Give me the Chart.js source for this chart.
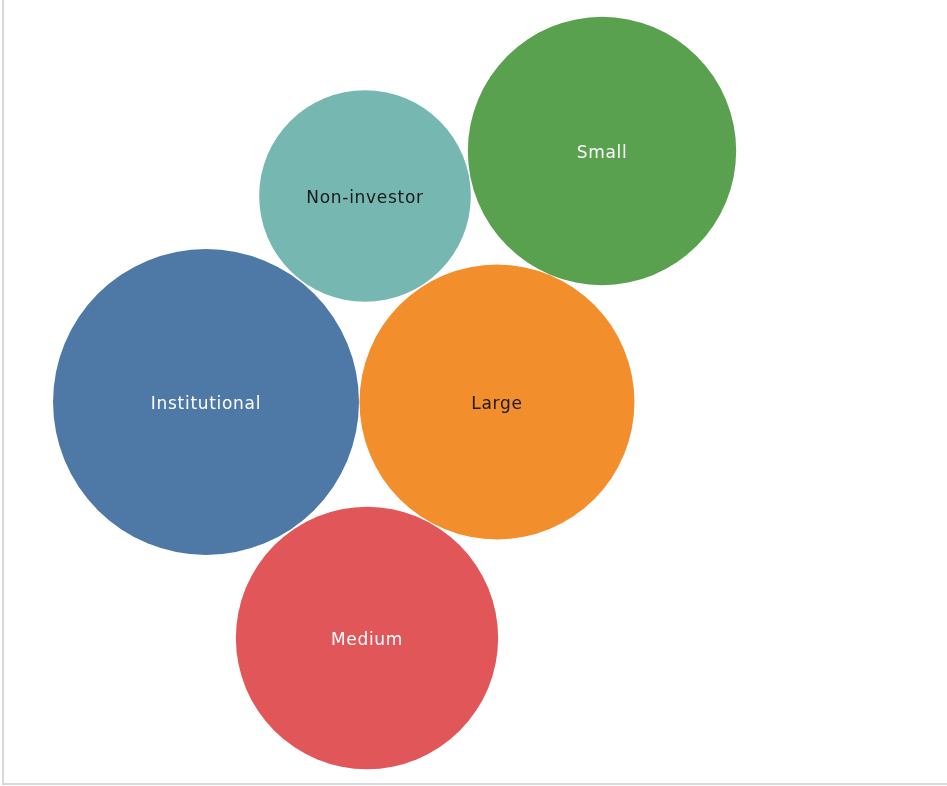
<!DOCTYPE html>
<html>
<head>
<meta charset="utf-8">
<script src="https://cdn.jsdelivr.net/npm/chart.js@4"></script>
<style>
  html, body { margin: 0; padding: 0; background: #fff; }
  #wrap { position: relative; width: 947px; height: 786px; }
</style>
</head>
<body>
<div id="wrap"><canvas id="myChart" width="947" height="786"></canvas></div>
<script>
// Packed bubble data
const categories = ["Institutional", "Large", "Small", "Medium", "Non-investor"];
const values = [234, 189, 180, 172, 112];
// layout positions of the packed bubbles (layout units)
const posX = [206, 497, 602, 367, 365];
const posY = [402, 402, 151, 638, 196];
const colors = ["#4e79a7", "#f28e2b", "#59a14f", "#e15759", "#76b7b2"];
const labelColors = ["#ffffff", "#1a1a1a", "#ffffff", "#ffffff", "#1a1a1a"];

function sizeToRadius(v) {
  return Math.sqrt(v) * 10;
}

const framePlugin = {
  id: "frame",
  beforeDraw(chart) {
    const ctx = chart.ctx;
    ctx.save();
    ctx.strokeStyle = "#d9d9d9";
    ctx.lineWidth = 2;
    ctx.beginPath();
    ctx.moveTo(3, 0);
    ctx.lineTo(3, 784);
    ctx.lineTo(947, 784);
    ctx.stroke();
    ctx.restore();
  },
};

const labelPlugin = {
  id: "bubbleLabels",
  afterDatasetsDraw(chart) {
    const ctx = chart.ctx;
    const meta = chart.getDatasetMeta(0);
    ctx.save();
    ctx.font = "17px 'DejaVu Sans'";
    ctx.letterSpacing = "0.7px";
    ctx.textAlign = "center";
    ctx.textBaseline = "alphabetic";
    meta.data.forEach((pt, i) => {
      ctx.fillStyle = labelColors[i];
      ctx.fillText(categories[i], pt.x, pt.y + 7);
    });
    ctx.restore();
  },
};

new Chart(document.getElementById("myChart"), {
  type: "bubble",
  data: {
    labels: categories,
    datasets: [
      {
        data: categories.map((c, i) => ({ x: posX[i], y: posY[i], r: sizeToRadius(values[i]) })),
        backgroundColor: colors,
        borderColor: colors,
        borderWidth: 0,
        hoverRadius: 0,
        clip: false,
      },
    ],
  },
  options: {
    responsive: false,
    animation: false,
    layout: { padding: 0, autoPadding: false },
    plugins: { legend: { display: false }, tooltip: { enabled: false } },
    scales: {
      x: { type: "linear", min: 0, max: 947, display: false },
      y: { type: "linear", min: 0, max: 786, reverse: true, display: false },
    },
  },
  plugins: [framePlugin, labelPlugin],
});
</script>
</body>
</html>
